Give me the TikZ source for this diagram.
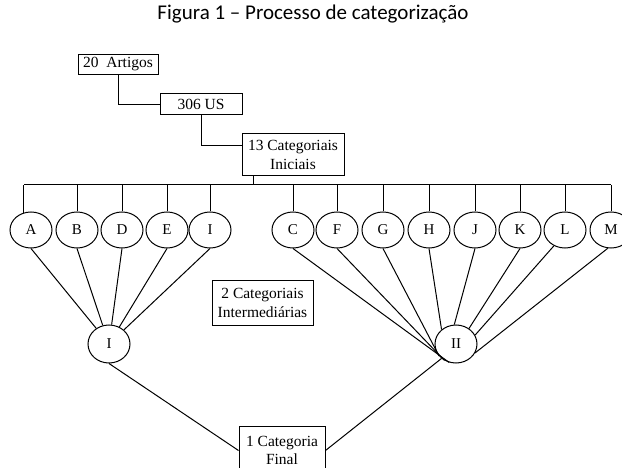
\documentclass[tikz,border=0pt]{standalone}
\usepackage{fontspec}
\setmainfont{Liberation Serif}
\newfontfamily\titlefont{Carlito}
\usetikzlibrary{shapes.geometric}
\begin{document}
\begin{tikzpicture}[x=1pt,y=-1pt,line width=1pt,
  box/.style={draw,inner sep=0pt,align=center,font=\fontsize{15.5}{18.5}\selectfont},
  cat/.style={draw,ellipse,inner sep=0pt,minimum width=42pt,minimum height=36pt,font=\fontsize{15}{17}\selectfont},
  link/.style={draw}]
\path[use as bounding box] (0,0) rectangle (622,468);
\node[font=\titlefont\fontsize{21}{25}\selectfont,anchor=base] (title) at (313,20) {Figura 1 – Processo de categorização};
\node[box,minimum width=80pt,minimum height=20pt] (n20) at (118,64.5) {20\ \ Artigos};
\node[box,minimum width=82pt,minimum height=21pt] (n306) at (201,104.5) {306 US};
\node[box,minimum width=102pt,minimum height=42pt] (n13) at (293,155) {13 Categoriais\\Iniciais};
\node[box,minimum width=101pt,minimum height=44pt] (n2) at (262.5,303) {2 Categoriais\\Intermediárias};
\node[box,minimum width=86pt,minimum height=49pt] (fin) at (282,450.5) {1 Categoria\\Final};
% initial categories
\node[cat] (cA) at (31,230) {A};
\node[cat] (cB) at (77,230) {B};
\node[cat] (cD) at (122,230) {D};
\node[cat] (cE) at (167,230) {E};
\node[cat] (cI) at (210,230) {I};
\node[cat] (cC) at (293,230) {C};
\node[cat] (cF) at (337,230) {F};
\node[cat] (cG) at (383,230) {G};
\node[cat] (cH) at (429,230) {H};
\node[cat] (cJ) at (475,230) {J};
\node[cat] (cK) at (520,230) {K};
\node[cat] (cL) at (565,230) {L};
\node[cat] (cM) at (611,230) {M};
% intermediate
\node[cat,minimum height=38pt] (i1) at (109,344) {I};
\node[cat,minimum height=38pt] (i2) at (456,344) {II};
% connectors top
\draw (n20.south) |- (n306.west);
\draw (n306.south) |- ([yshift=9pt]n13.west);
\coordinate (barL) at (24,185);
\coordinate (barR) at (611,185);
\draw (barL) -- (barR);
\draw ([xshift=-40pt]n13.south) -- ([xshift=-40pt]n13.south |- barL);
\draw (cA.112) -- (cA.112 |- barL);
\foreach \n in {cB,cD,cE,cI,cC,cF,cG,cH,cJ,cK,cL,cM}
  \draw (\n.north) -- (\n.north |- barL);
% to intermediate I
\foreach \n in {cA,cB,cD,cE,cI}
  \draw (\n.south) -- (i1);
% to intermediate II
\draw (cC.south) -- (i2.250);
\draw (cF.south) -- (i2.235);
\draw (cG.south) -- (i2.215);
\draw (cH.south) -- (i2.135);
\draw (cJ.south) -- (i2.95);
\draw (cK.south) -- (i2.50);
\draw (cL.235) -- (i2.25);
\draw (cM.260) -- (i2.335);
% to final
\draw (i1.south) -- (fin.west);
\draw (i2.225) -- (fin.east);
\end{tikzpicture}
\end{document}
